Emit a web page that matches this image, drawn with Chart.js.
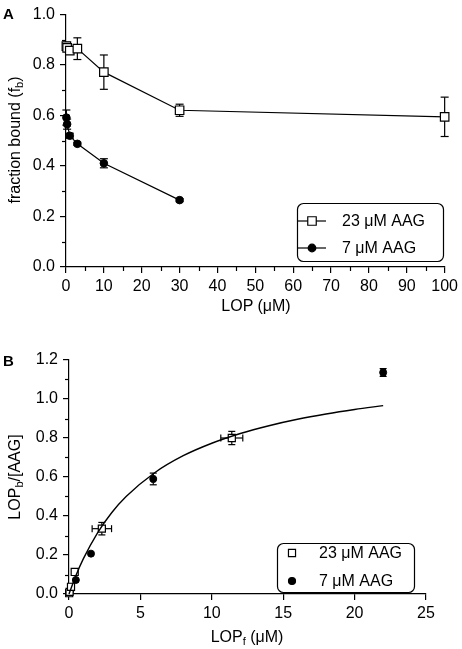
<!DOCTYPE html>
<html>
<head>
<meta charset="utf-8">
<script src="https://cdn.jsdelivr.net/npm/chart.js@4/dist/chart.umd.min.js"></script>
<style>
  html, body { margin: 0; padding: 0; background: #fff; }
  body { width: 462px; height: 649px; position: relative; overflow: hidden;
         font-family: "Liberation Sans", Arial, Helvetica, sans-serif; color: #000; }
  canvas { position: absolute; left: 0; }
  .t { position: absolute; font-size: 16px; white-space: nowrap; line-height: 1; }
  .t sub { font-size: 11px; vertical-align: -3px; line-height: 0; }
  .panel { position: absolute; font-weight: bold; font-size: 15px; line-height: 1; }
  .rot { transform: translate(-50%, -50%) rotate(-90deg); }
  .ctr { transform: translate(-50%, -50%); }
</style>
</head>
<body>
<canvas id="chartA" width="462" height="320" style="top:0px"></canvas>
<canvas id="chartB" width="462" height="319" style="top:330px"></canvas>

<div class="panel" style="left:3px; top:6px;">A</div>
<div class="t rot" style="left:15px; top:140px;">fraction bound (f<sub>b</sub>)</div>
<div class="t ctr" style="left:256px; top:306px;">LOP (μM)</div>

<div class="panel" style="left:3px; top:353px;">B</div>
<div class="t rot" style="left:15px; top:477px;">LOP<sub>b</sub>/[AAG]</div>
<div class="t ctr" style="left:247px; top:637px;">LOP<sub>f</sub> (μM)</div>

<script>
// ---------------- Panel A data ----------------
const lopTotal23 = [0.1, 0.3, 1, 3, 10, 30, 100];
const fb23       = [0.875, 0.868, 0.857, 0.865, 0.772, 0.621, 0.595];
const fb23Err    = [0.015, 0.01, 0.01, 0.043, 0.068, 0.024, 0.078];

const lopTotal7  = [0.1, 0.3, 1, 3, 10, 30];
const fb7        = [0.592, 0.566, 0.52, 0.488, 0.411, 0.265];
const fb7Err     = [0.03, 0.02, 0.01, 0.006, 0.018, 0.006];

const xTicksA      = [0, 10, 20, 30, 40, 50, 60, 70, 80, 90, 100];
const xMinorA      = [5, 15, 25, 35, 45, 55, 65, 75, 85, 95];
const yTicksA      = [0, 0.2, 0.4, 0.6, 0.8, 1.0];
const yTickLabelsA = ['0.0', '0.2', '0.4', '0.6', '0.8', '1.0'];
const yMinorA      = [0.1, 0.3, 0.5, 0.7, 0.9];

// ---------------- Panel B data ----------------
const lopF23     = [0.012, 0.04, 0.14, 0.40, 2.3, 11.4];
const ratio23    = [0.004, 0.011, 0.037, 0.113, 0.335, 0.80];
const lopF23Err  = [0, 0, 0.02, 0.05, 0.68, 0.77];
const ratio23Err = [0, 0.004, 0.008, 0.015, 0.032, 0.034];

const lopF7      = [0.04, 0.13, 0.48, 1.54, 5.9, 22.0];
const ratio7     = [0.008, 0.024, 0.072, 0.207, 0.59, 1.136];
const lopF7Err   = [0, 0, 0, 0, 0.1, 0.15];
const ratio7Err  = [0, 0, 0, 0, 0.03, 0.02];

// fitted saturation curve
const fitX = [0, 0.5, 1, 2, 3, 4, 6, 8, 10, 12, 14, 16, 18, 20, 22];
const fitY = [0, 0.097, 0.18, 0.314, 0.418, 0.5, 0.622, 0.709, 0.773, 0.823, 0.863, 0.896, 0.923, 0.946, 0.966];

const xTicksB      = [0, 5, 10, 15, 20, 25];
const xTickLabelsB = ['0', '5', '10', '15', '20', '25'];
const yTicksB      = [0, 0.2, 0.4, 0.6, 0.8, 1.0, 1.2];
const yTickLabelsB = ['0.0', '0.2', '0.4', '0.6', '0.8', '1.0', '1.2'];
const yMinorB      = [0.1, 0.3, 0.5, 0.7, 0.9, 1.1];

const legendLabels = ['23 μM AAG', '7 μM AAG'];

// ---------------- helpers ----------------
const FONT = '"Liberation Sans", Arial, Helvetica, sans-serif';
const pts = (xs, ys) => xs.map((x, i) => ({ x: x, y: ys[i] }));

const errorBarPlugin = {
  id: 'errBars',
  beforeDatasetsDraw(chart, args, o) {
    const ctx = chart.ctx, xs = chart.scales.x, ys = chart.scales.y;
    const cap = o.cap || 4;
    ctx.save();
    ctx.strokeStyle = '#000';
    ctx.lineWidth = o.lineWidth || 1.2;
    const seg = (a, b, c, d) => { ctx.beginPath(); ctx.moveTo(a, b); ctx.lineTo(c, d); ctx.stroke(); };
    chart.data.datasets.forEach(ds => {
      ds.data.forEach((p, i) => {
        const px = xs.getPixelForValue(p.x), py = ys.getPixelForValue(p.y);
        if (ds.errY && ds.errY[i]) {
          const t = ys.getPixelForValue(p.y + ds.errY[i]);
          const b = ys.getPixelForValue(p.y - ds.errY[i]);
          seg(px, t, px, b); seg(px - cap, t, px + cap, t); seg(px - cap, b, px + cap, b);
        }
        if (ds.errX && ds.errX[i]) {
          const l = xs.getPixelForValue(p.x - ds.errX[i]);
          const r = xs.getPixelForValue(p.x + ds.errX[i]);
          seg(l, py, r, py); seg(l, py - cap, l, py + cap); seg(r, py - cap, r, py + cap);
        }
      });
    });
    ctx.restore();
  }
};

const minorTickPlugin = {
  id: 'minorTicks',
  afterDraw(chart, args, o) {
    const ctx = chart.ctx, xs = chart.scales.x, ys = chart.scales.y;
    ctx.save();
    ctx.strokeStyle = '#000';
    ctx.lineWidth = 1.2;
    (o.x || []).forEach(v => {
      const px = Math.round(xs.getPixelForValue(v)) + 0.5;
      ctx.beginPath(); ctx.moveTo(px, xs.top); ctx.lineTo(px, xs.top + o.len); ctx.stroke();
    });
    (o.y || []).forEach(v => {
      const py = Math.round(ys.getPixelForValue(v)) + 0.5;
      ctx.beginPath(); ctx.moveTo(ys.right, py); ctx.lineTo(ys.right - o.len, py); ctx.stroke();
    });
    ctx.restore();
  }
};

function drawMarker(ctx, style, r, x, y, fill) {
  ctx.save();
  ctx.fillStyle = fill;
  ctx.strokeStyle = '#000';
  ctx.lineWidth = 1.2;
  ctx.beginPath();
  if (style === 'rect') {
    const s = r * Math.SQRT1_2;
    ctx.rect(x - s, y - s, 2 * s, 2 * s);
  } else {
    ctx.arc(x, y, r, 0, Math.PI * 2);
  }
  ctx.fill();
  ctx.stroke();
  ctx.restore();
}

const boxLegendPlugin = {
  id: 'boxLegend',
  afterDraw(chart, args, o) {
    const ctx = chart.ctx;
    ctx.save();
    ctx.strokeStyle = '#000';
    ctx.lineWidth = 1.2;
    ctx.beginPath();
    if (ctx.roundRect) ctx.roundRect(o.x + 0.5, o.y + 0.5, o.w, o.h, o.r);
    else ctx.rect(o.x + 0.5, o.y + 0.5, o.w, o.h);
    ctx.stroke();
    const items = chart.data.datasets.filter(d => d.inLegend);
    items.forEach((ds, i) => {
      const y = o.rows[i];
      if (o.lineHalf) {
        ctx.beginPath();
        ctx.lineWidth = 1.2;
        ctx.moveTo(o.markerX - o.lineHalf, y);
        ctx.lineTo(o.markerX + o.lineHalf, y);
        ctx.stroke();
      }
      drawMarker(ctx, ds.pointStyle, ds.pointRadius, o.markerX, y, ds.pointBackgroundColor);
      ctx.fillStyle = '#000';
      ctx.font = '16px ' + FONT;
      ctx.textAlign = 'left';
      ctx.textBaseline = 'middle';
      ctx.fillText(ds.label, o.textX, y + 1);
    });
    ctx.restore();
  }
};

function axisCommon(extra) {
  return Object.assign({
    type: 'linear',
    grid: { drawOnChartArea: false, drawTicks: true, tickLength: 6, color: '#000', tickColor: '#000', lineWidth: 1.2, tickWidth: 1.2 },
    border: { display: true, color: '#000', width: 1.2 },
  }, extra);
}

// ---------------- Chart A ----------------
new Chart(document.getElementById('chartA'), {
  type: 'scatter',
  data: {
    datasets: [
      {
        label: legendLabels[0], inLegend: true,
        data: pts(lopTotal23, fb23), errY: fb23Err,
        showLine: true, borderColor: '#000', borderWidth: 1.2,
        pointStyle: 'rect', pointRadius: 6, pointBorderWidth: 1.2,
        pointBackgroundColor: '#fff', pointBorderColor: '#000', clip: false
      },
      {
        label: legendLabels[1], inLegend: true,
        data: pts(lopTotal7, fb7), errY: fb7Err,
        showLine: true, borderColor: '#000', borderWidth: 1.2,
        pointStyle: 'circle', pointRadius: 3.8, pointBorderWidth: 1,
        pointBackgroundColor: '#000', pointBorderColor: '#000', clip: false
      }
    ]
  },
  options: {
    responsive: false, animation: false, devicePixelRatio: 1,
    layout: { padding: { top: 12, right: 16, left: 0, bottom: 0 } },
    plugins: {
      legend: { display: false }, tooltip: { enabled: false },
      errBars: { cap: 4 },
      minorTicks: { x: xMinorA, y: yMinorA, len: 4 },
      boxLegend: { x: 297, y: 203, w: 146, h: 58, r: 6, rows: [221, 248], markerX: 312, lineHalf: 14, textX: 342 }
    },
    scales: {
      x: axisCommon({
        min: 0, max: 100,
        afterFit: s => { s.height = 53; },
        afterBuildTicks: s => { s.ticks = xTicksA.map(v => ({ value: v })); },
        ticks: { color: '#000', font: { family: FONT, size: 16 }, padding: 4, maxRotation: 0, autoSkip: false,
                 callback: (v, i) => String(xTicksA[i]) }
      }),
      y: axisCommon({
        min: 0, max: 1,
        afterFit: s => { s.width = 66; },
        afterBuildTicks: s => { s.ticks = yTicksA.map(v => ({ value: v })); },
        ticks: { color: '#000', font: { family: FONT, size: 16 }, padding: 5, autoSkip: false,
                 callback: (v, i) => yTickLabelsA[i] }
      })
    }
  },
  plugins: [errorBarPlugin, minorTickPlugin, boxLegendPlugin]
});

// ---------------- Chart B ----------------
new Chart(document.getElementById('chartB'), {
  type: 'scatter',
  data: {
    datasets: [
      {
        label: 'fit', inLegend: false,
        data: pts(fitX, fitY),
        showLine: true, borderColor: '#000', borderWidth: 1.4,
        pointRadius: 0, tension: 0.4, cubicInterpolationMode: 'monotone', clip: false
      },
      {
        label: legendLabels[0], inLegend: true,
        data: pts(lopF23, ratio23), errY: ratio23Err, errX: lopF23Err,
        showLine: false,
        pointStyle: 'rect', pointRadius: 5, pointBorderWidth: 1.2,
        pointBackgroundColor: '#fff', pointBorderColor: '#000', clip: false
      },
      {
        label: legendLabels[1], inLegend: true,
        data: pts(lopF7, ratio7), errY: ratio7Err, errX: lopF7Err,
        showLine: false,
        pointStyle: 'circle', pointRadius: 3.5, pointBorderWidth: 1,
        pointBackgroundColor: '#000', pointBorderColor: '#000', clip: false
      }
    ]
  },
  options: {
    responsive: false, animation: false, devicePixelRatio: 1,
    layout: { padding: { top: 30, right: 36, left: 0, bottom: 0 } },
    plugins: {
      legend: { display: false }, tooltip: { enabled: false },
      errBars: { cap: 3.5 },
      minorTicks: { x: [], y: yMinorB, len: 4 },
      boxLegend: { x: 277, y: 213, w: 137, h: 49, r: 6, rows: [223, 251], markerX: 292, lineHalf: 0, textX: 319 }
    },
    scales: {
      x: axisCommon({
        min: 0, max: 25,
        afterFit: s => { s.height = 55; },
        afterBuildTicks: s => { s.ticks = xTicksB.map(v => ({ value: v })); },
        ticks: { color: '#000', font: { family: FONT, size: 16 }, padding: 4, maxRotation: 0, autoSkip: false,
                 callback: (v, i) => xTickLabelsB[i] }
      }),
      y: axisCommon({
        min: 0, max: 1.2,
        afterFit: s => { s.width = 69; },
        afterBuildTicks: s => { s.ticks = yTicksB.map(v => ({ value: v })); },
        ticks: { color: '#000', font: { family: FONT, size: 16 }, padding: 5, autoSkip: false,
                 callback: (v, i) => yTickLabelsB[i] }
      })
    }
  },
  plugins: [errorBarPlugin, minorTickPlugin, boxLegendPlugin]
});
</script>
</body>
</html>
